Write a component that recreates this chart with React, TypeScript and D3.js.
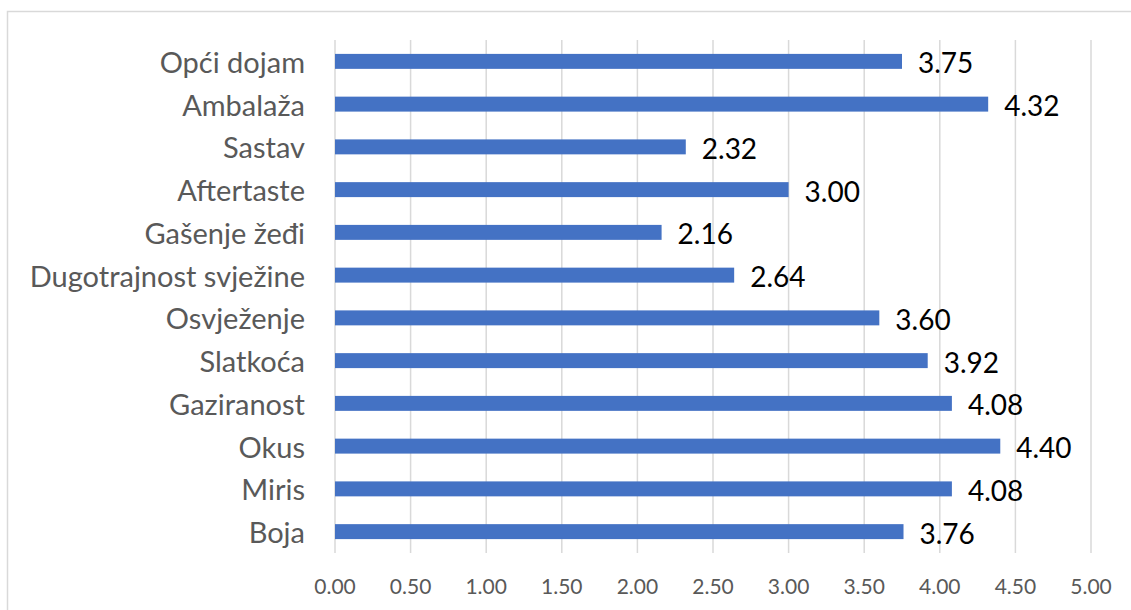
import React from "react";
import * as d3 from "d3";

const categories = [
  "Opći dojam",
  "Ambalaža",
  "Sastav",
  "Aftertaste",
  "Gašenje žeđi",
  "Dugotrajnost svježine",
  "Osvježenje",
  "Slatkoća",
  "Gaziranost",
  "Okus",
  "Miris",
  "Boja",
];
const values = [3.75, 4.32, 2.32, 3.0, 2.16, 2.64, 3.6, 3.92, 4.08, 4.4, 4.08, 3.76];
const xTicks = [0, 0.5, 1, 1.5, 2, 2.5, 3, 3.5, 4, 4.5, 5];

const W = 1131;
const H = 610;
const FONT = "Lato, 'Open Sans', sans-serif";

export default function App() {
  const x = d3.scaleLinear().domain([0, 5]).range([335, 1091]);
  const y = d3.scaleBand<string>().domain(categories).range([40, 553]).paddingInner(0.65).paddingOuter(0.325);
  const bw = y.bandwidth();

  return (
    <svg
      width={W}
      height={H}
      style={{ position: "absolute", left: 0, top: 0, display: "block", background: "#fff" }}
      fontFamily={FONT}
    >
      <rect x={7.5} y={11.5} width={W} height={H} fill="#fff" stroke="#d9d9d9" strokeWidth={1.5} />
      {xTicks.map((t) => (
        <line key={"g" + t} x1={x(t)} x2={x(t)} y1={40} y2={553} stroke="#d9d9d9" strokeWidth={1.5} />
      ))}
      {categories.map((c, i) => {
        const yc = (y(c) as number) + bw / 2;
        return (
          <g key={c}>
            <rect x={x(0)} y={y(c)} width={x(values[i]) - x(0)} height={bw} fill="#4472C4" />
            <text x={305} y={yc} textAnchor="end" dominantBaseline="central" fontSize={29} fill="#595959">
              {c}
            </text>
            <text x={x(values[i]) + 16} y={yc + 1} dominantBaseline="central" fontSize={28} fill="#000">
              {values[i].toFixed(2)}
            </text>
          </g>
        );
      })}
      {xTicks.map((t) => (
        <text key={"t" + t} x={x(t)} y={585} textAnchor="middle" dominantBaseline="central" fontSize={21} fill="#595959">
          {t.toFixed(2)}
        </text>
      ))}
    </svg>
  );
}
